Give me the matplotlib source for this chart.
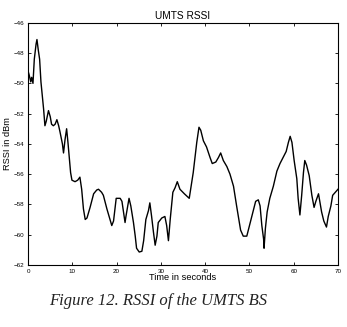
import matplotlib
matplotlib.use("Agg")
import matplotlib.pyplot as plt

# RSSI trace (time in s, level in dBm)
time_s = [
    0.0, 0.2, 0.6, 0.8, 1.1, 1.4, 1.8, 2.0, 2.3, 2.6, 2.9, 3.2, 3.5, 3.8,
    4.1, 4.6, 5.0, 5.3, 5.7, 6.1, 6.5, 6.9, 7.2, 7.75, 8.0, 8.35, 8.7, 9.0,
    9.3, 9.6, 9.9, 10.6, 11.2, 11.7, 12.1, 12.5, 12.9, 13.3, 13.6, 14.0,
    14.8, 15.5, 15.9, 16.6, 17.0, 17.8, 18.9, 19.3, 19.9, 20.8, 21.2, 21.9,
    22.1, 22.8, 23.2, 23.8, 24.2, 24.5, 25.1, 25.7, 26.1, 26.6, 27.2, 27.5,
    27.9, 28.3, 28.7, 29.1, 29.4, 30.2, 30.9, 31.3, 31.7, 32.1, 32.7, 33.2,
    33.7, 34.3, 35.3, 36.4, 37.3, 38.1, 38.6, 39.0, 39.6, 40.3, 41.1, 41.6,
    42.4, 43.0, 43.5, 44.1, 44.9, 45.6, 46.4, 47.1, 48.0, 48.6, 49.4, 50.1,
    50.9, 51.4, 52.0, 52.4, 52.8, 53.2, 53.3, 53.6, 54.0, 54.6, 55.4, 56.2,
    56.9, 57.6, 58.3, 58.8, 59.2, 59.6, 60.1, 60.7, 61.0, 61.4, 61.8, 62.2,
    62.5, 62.9, 63.5, 64.1, 64.6, 65.0, 65.6, 65.9, 66.3, 66.8, 67.4, 67.8,
    68.4, 68.8, 69.4, 70.0,
]
rssi_dbm = [
    -49.2, -49.4, -49.9, -49.6, -50.0, -48.4, -47.4, -47.1, -47.8, -48.4,
    -49.9, -50.8, -51.7, -52.8, -52.5, -51.8, -52.2, -52.7, -52.8, -52.7,
    -52.4, -52.8, -53.2, -54.0, -54.6, -53.7, -53.0, -53.9, -54.9, -55.9,
    -56.4, -56.5, -56.4, -56.2, -57.0, -58.3, -59.0, -58.9, -58.6, -58.2,
    -57.3, -57.05, -57.0, -57.2, -57.4, -58.3, -59.4, -59.1, -57.6, -57.6,
    -57.8, -59.2, -58.8, -57.6, -58.1, -59.2, -60.1, -60.9, -61.15, -61.1,
    -60.4, -59.0, -58.4, -57.9, -58.8, -59.8, -60.7, -60.1, -59.2, -58.9,
    -58.8, -59.4, -60.4, -59.0, -57.2, -56.9, -56.5, -57.0, -57.3, -57.6,
    -55.9, -53.9, -52.9, -53.1, -53.8, -54.2, -54.9, -55.3, -55.2, -54.9,
    -54.6, -55.1, -55.5, -56.0, -56.8, -58.1, -59.7, -60.1, -60.1, -59.3,
    -58.4, -57.8, -57.7, -58.1, -59.4, -60.3, -60.9, -59.6, -58.5, -57.6,
    -56.8, -55.8, -55.3, -54.9, -54.5, -53.9, -53.5, -53.9, -55.1, -56.3,
    -57.6, -58.7, -57.4, -55.9, -55.1, -55.4, -56.1, -57.4, -58.2, -57.8,
    -57.3, -57.8, -58.5, -59.1, -59.5, -58.8, -58.1, -57.4, -57.2, -57.0,
]

x_ticks = [0, 10, 20, 30, 40, 50, 60, 70]
y_ticks = [-62, -60, -58, -56, -54, -52, -50, -48, -46]

plt.rcParams["font.family"] = ["Liberation Sans", "DejaVu Sans"]

fig = plt.figure(figsize=(3.47, 3.27), dpi=100)
ax = fig.add_axes([0.081, 0.19, 0.893, 0.74])

ax.plot(time_s, rssi_dbm, color="black", linewidth=1.0)

ax.set_xlim(0, 70)
ax.set_ylim(-62, -46)
ax.set_xticks(x_ticks)
ax.set_yticks(y_ticks)
ax.tick_params(direction="in", length=2.5, width=0.6, labelsize=4.5,
               top=True, right=True, pad=3)
for s in ax.spines.values():
    s.set_linewidth(0.8)

ax.set_title("UMTS RSSI", fontsize=7.3, pad=3)
ax.set_xlabel("Time in seconds", fontsize=6.7, labelpad=-1)
ax.set_ylabel("RSSI in dBm", fontsize=6.7, labelpad=1)

fig.text(0.455, 0.08, "Figure 12. RSSI of the UMTS BS", ha="center", va="center",
         fontsize=12, style="italic", family=["Liberation Serif", "DejaVu Serif"],
         color="#222222")

fig.savefig("out.png", dpi=100)
